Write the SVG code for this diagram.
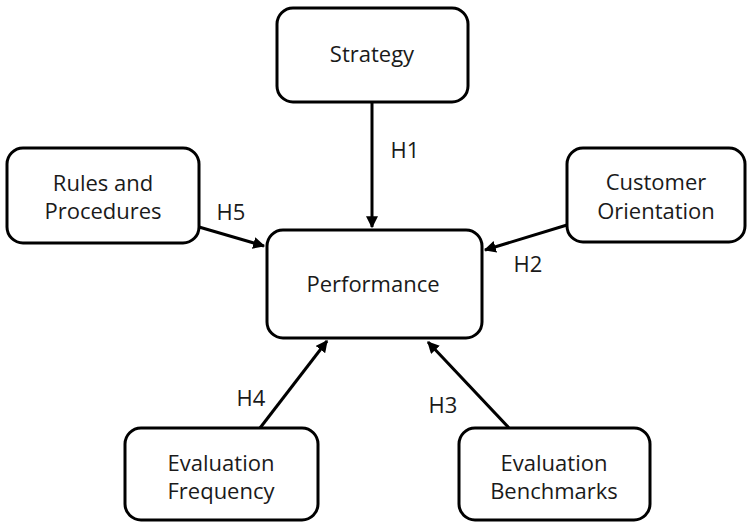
<svg xmlns="http://www.w3.org/2000/svg" width="752" height="524" viewBox="0 0 752 524">
<style>
.box{fill:#fff;stroke:#000;stroke-width:3}
.t{font-family:"Open Sans","Noto Sans",sans-serif;font-size:22px;fill:#1a1a1a;text-anchor:middle}
.c{stroke:#000;stroke-width:3;fill:none;marker-end:url(#ah)}
</style>
<defs>
<marker id="ah" viewBox="0 0 10 10" refX="9" refY="5" markerWidth="4" markerHeight="4" orient="auto" markerUnits="strokeWidth">
<path d="M0,0 L10,5 L0,10 z" fill="#000"/>
</marker>
</defs>
<rect width="752" height="524" fill="#fff"/>
<g id="connectors">
<line class="c" x1="372" y1="102" x2="372" y2="227"/>
<line class="c" x1="199" y1="227" x2="264" y2="246"/>
<line class="c" x1="567" y1="225" x2="485" y2="250"/>
<line class="c" x1="260" y1="428" x2="327" y2="341"/>
<line class="c" x1="509" y1="428" x2="428" y2="342"/>
<text class="t" x="405" y="158">H1</text>
<text class="t" x="231" y="220">H5</text>
<text class="t" x="528" y="272">H2</text>
<text class="t" x="251" y="406">H4</text>
<text class="t" x="443" y="413">H3</text>
</g>
<g id="strategy">
<rect class="box" x="277" y="8" width="191" height="94" rx="16"/>
<text class="t" x="372" y="62">Strategy</text>
</g>
<g id="rules">
<rect class="box" x="7" y="148" width="192" height="95" rx="16"/>
<text class="t" x="103" y="191">Rules and</text>
<text class="t" x="103" y="219">Procedures</text>
</g>
<g id="customer">
<rect class="box" x="567" y="148" width="178" height="94" rx="16"/>
<text class="t" x="656" y="190">Customer</text>
<text class="t" x="656" y="219">Orientation</text>
</g>
<g id="performance">
<rect class="box" x="267" y="230" width="215" height="108" rx="16"/>
<text class="t" x="373" y="292">Performance</text>
</g>
<g id="frequency">
<rect class="box" x="125" y="428" width="193" height="92" rx="16"/>
<text class="t" x="221" y="471">Evaluation</text>
<text class="t" x="221" y="499">Frequency</text>
</g>
<g id="benchmarks">
<rect class="box" x="459" y="428" width="191" height="92" rx="16"/>
<text class="t" x="554" y="471">Evaluation</text>
<text class="t" x="554" y="499">Benchmarks</text>
</g>
</svg>
